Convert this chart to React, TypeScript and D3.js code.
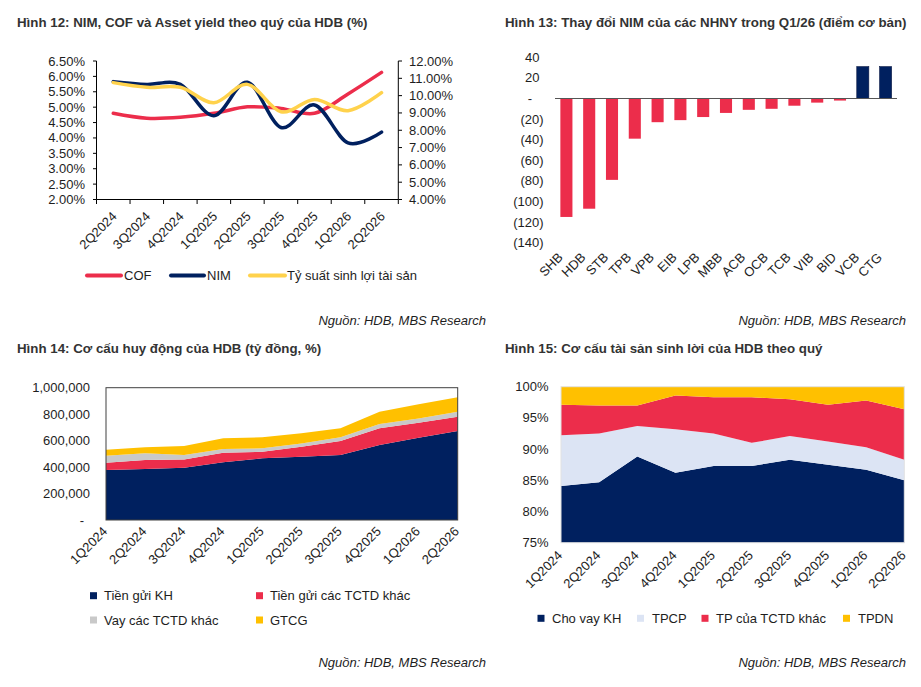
import * as d3 from "d3";

const FONT = "'Liberation Sans', Arial, sans-serif";
const NAVY = "#00205F";
const RED = "#EC2D4B";
const GOLD = "#FFC000";
const LINE_GOLD = "#FFD24C";
const GRAY = "#C9C9C9";
const PALE = "#DCE4F4";
const INK = "#1E1E1E";

// Hình 12
const Q_A = ["2Q2024", "3Q2024", "4Q2024", "1Q2025", "2Q2025", "3Q2025", "4Q2025", "1Q2026", "2Q2026"];
const COF = [4.8, 4.64, 4.67, 4.8, 5.01, 4.96, 4.8, 5.43, 6.13];
const NIM = [5.83, 5.74, 5.74, 4.72, 5.81, 4.34, 5.07, 3.84, 4.19];
const YIELD = [10.75, 10.48, 10.48, 9.59, 10.65, 9.07, 9.78, 9.13, 10.17];
const LEFT_TICKS = [2, 2.5, 3, 3.5, 4, 4.5, 5, 5.5, 6, 6.5];
const RIGHT_TICKS = [4, 5, 6, 7, 8, 9, 10, 11, 12];

// Hình 13
const BANKS = ["SHB", "HDB", "STB", "TPB", "VPB", "EIB", "LPB", "MBB", "ACB", "OCB", "TCB", "VIB", "BID", "VCB", "CTG"];
const NIM_CHG = [-115, -107, -79, -39, -23, -21, -18, -14, -11, -10, -7, -4, -2, 31, 31];
const BP_TICKS = [40, 20, 0, -20, -40, -60, -80, -100, -120, -140];

// Hình 14 (nghìn tỷ đồng)
const Q_B = ["1Q2024", "2Q2024", "3Q2024", "4Q2024", "1Q2025", "2Q2025", "3Q2025", "4Q2025", "1Q2026", "2Q2026"];
const DEP_KH = [378, 385, 395, 436, 466, 479, 491, 567, 622, 673];
const DEP_TCTD = [55, 68, 63, 73, 50, 75, 106, 126, 114, 108];
const VAY_TCTD = [53, 51, 33, 28, 26, 25, 28, 32, 32, 38];
const GTCG = [45, 45, 68, 80, 83, 76, 68, 94, 106, 108];
const FUND_TICKS = [0, 200000, 400000, 600000, 800000, 1000000];

// Hình 15 (%)
const LOAN = [84.1, 84.7, 88.8, 86.2, 87.3, 87.3, 88.3, 87.5, 86.7, 85.0];
const TPCP = [8.1, 7.8, 4.9, 7.0, 5.2, 3.7, 3.8, 3.7, 3.6, 3.3];
const TP_TCTD = [4.9, 4.5, 3.3, 5.4, 5.8, 7.3, 5.9, 5.9, 7.5, 8.1];
const TPDN = [2.9, 3.0, 3.0, 1.4, 1.7, 1.7, 2.0, 2.9, 2.2, 3.6];
const PCT_TICKS = [75, 80, 85, 90, 95, 100];

const SOURCE = "Nguồn: HDB, MBS Research";

function Title({ x, y, children }: { x: number; y: number; children: string }) {
  return (
    <text x={x} y={y} fontSize={13.3} fontWeight="bold" fill="#333">
      {children}
    </text>
  );
}

function Source({ x, y }: { x: number; y: number }) {
  return (
    <text x={x} y={y} fontSize={13} fontStyle="italic" textAnchor="end" fill={INK}>
      {SOURCE}
    </text>
  );
}

function Panel12() {
  const x = d3.scaleBand().domain(Q_A).range([96.5, 398.3]);
  const yL = d3.scaleLinear().domain([2, 6.5]).range([199.5, 61]);
  const yR = d3.scaleLinear().domain([4, 12]).range([199.5, 61]);
  const cx = (q: string) => (x(q) ?? 0) + x.bandwidth() / 2;
  const curve = d3.curveCardinal.tension(0);
  const lineL = d3.line<number>().x((_, i) => cx(Q_A[i])).y((d) => yL(d)).curve(curve);
  const lineR = d3.line<number>().x((_, i) => cx(Q_A[i])).y((d) => yR(d)).curve(curve);
  const fmt2 = (v: number) => v.toFixed(2) + "%";
  const series = [
    { name: "COF", color: RED, x0: 87, x1: 121, tx: 124 },
    { name: "NIM", color: NAVY, x0: 171, x1: 204, tx: 207 },
    { name: "Tỷ suất sinh lợi tài sản", color: LINE_GOLD, x0: 250, x1: 285, tx: 287 },
  ];
  return (
    <g>
      <Title x={17} y={27}>Hình 12: NIM, COF và Asset yield theo quý của HDB (%)</Title>
      <g stroke="#000" strokeWidth={1}>
        <line x1={96.5} x2={96.5} y1={61} y2={199.5} />
        <line x1={398.3} x2={398.3} y1={61} y2={199.5} />
        <line x1={96.5} x2={398.3} y1={199.5} y2={199.5} />
        {LEFT_TICKS.map((t) => (
          <line key={"l" + t} x1={93} x2={96.5} y1={yL(t)} y2={yL(t)} />
        ))}
        {RIGHT_TICKS.map((t) => (
          <line key={"r" + t} x1={398.3} x2={402} y1={yR(t)} y2={yR(t)} />
        ))}
        {Q_A.map((q) => (
          <line key={q} x1={x(q)} x2={x(q)} y1={199.5} y2={204} />
        ))}
        <line x1={398.3} x2={398.3} y1={199.5} y2={204} />
      </g>
      {LEFT_TICKS.map((t) => (
        <text key={"lt" + t} x={85} y={yL(t)} dy="0.35em" textAnchor="end" fontSize={13} fill={INK}>
          {fmt2(t)}
        </text>
      ))}
      {RIGHT_TICKS.map((t) => (
        <text key={"rt" + t} x={409} y={yR(t)} dy="0.35em" fontSize={13} fill={INK}>
          {fmt2(t)}
        </text>
      ))}
      {Q_A.map((q) => (
        <text key={"x" + q} transform={`translate(${cx(q) + 1},${214}) rotate(-45)`} dy="0.35em" textAnchor="end" fontSize={13} fill={INK}>
          {q}
        </text>
      ))}
      <g fill="none" strokeWidth={3.5} strokeLinecap="round">
        <path d={lineL(COF) ?? ""} stroke={RED} />
        <path d={lineL(NIM) ?? ""} stroke={NAVY} />
        <path d={lineR(YIELD) ?? ""} stroke={LINE_GOLD} />
      </g>
      {series.map((s) => (
        <g key={s.name}>
          <line x1={s.x0} x2={s.x1} y1={275.5} y2={275.5} stroke={s.color} strokeWidth={4} strokeLinecap="round" />
          <text x={s.tx} y={275.5} dy="0.35em" fontSize={13} fill={INK}>
            {s.name}
          </text>
        </g>
      ))}
      <Source x={486} y={325} />
    </g>
  );
}

function Panel13() {
  const x = d3.scaleBand().domain(BANKS).range([555, 897]).paddingInner(0.47).paddingOuter(0.235);
  const y = d3.scaleLinear().domain([-140, 40]).range([242.7, 57.3]);
  const label = (v: number) => (v === 0 ? "-" : v < 0 ? `(${-v})` : String(v));
  return (
    <g>
      <Title x={505} y={27}>Hình 13: Thay đổi NIM của các NHNY trong Q1/26 (điểm cơ bản)</Title>
      {BANKS.map((b, i) => {
        const v = NIM_CHG[i];
        return (
          <rect
            key={b}
            x={x(b)}
            width={x.bandwidth()}
            y={y(Math.max(0, v))}
            height={Math.abs(y(v) - y(0))}
            fill={v < 0 ? RED : NAVY}
            stroke={v < 0 ? "none" : "#0B1A45"}
            strokeWidth={0.6}
          />
        );
      })}
      <line x1={555} x2={897} y1={y(0)} y2={y(0)} stroke="#555" strokeWidth={1.2} />
      {BP_TICKS.map((t) => (
        <text
          key={t}
          x={t === 0 ? 532 : t > 0 ? 539.5 : 543.5}
          y={y(t)}
          dy="0.35em"
          textAnchor="end"
          fontSize={13}
          fill={INK}
        >
          {label(t)}
        </text>
      ))}
      {BANKS.map((b) => (
        <text
          key={"x" + b}
          transform={`translate(${(x(b) ?? 0) + x.bandwidth() / 2 - 6},${255}) rotate(-45)`}
          dy="0.35em"
          textAnchor="end"
          fontSize={13}
          fill={INK}
        >
          {b}
        </text>
      ))}
      <Source x={906} y={325} />
    </g>
  );
}

function Panel14() {
  const rows = Q_B.map((q, i) => ({
    q,
    kh: DEP_KH[i] * 1000,
    tctd: DEP_TCTD[i] * 1000,
    vay: VAY_TCTD[i] * 1000,
    gtcg: GTCG[i] * 1000,
  }));
  const keys = ["kh", "tctd", "vay", "gtcg"];
  const colors: Record<string, string> = { kh: NAVY, tctd: RED, vay: GRAY, gtcg: GOLD };
  const stacked = d3.stack<any>().keys(keys)(rows);
  const x = d3.scalePoint().domain(Q_B).range([106, 457.7]);
  const y = d3.scaleLinear().domain([0, 1000000]).range([520, 387.7]);
  const area = d3
    .area<any>()
    .x((d) => x(d.data.q) ?? 0)
    .y0((d) => y(d[0]))
    .y1((d) => y(d[1]));
  const legend = [
    { name: "Tiền gửi KH", color: NAVY, sx: 90, tx: 104, ly: 595.7 },
    { name: "Tiền gửi các TCTD khác", color: RED, sx: 256, tx: 270, ly: 595.7 },
    { name: "Vay các TCTD khác", color: GRAY, sx: 90, tx: 104, ly: 620 },
    { name: "GTCG", color: GOLD, sx: 256, tx: 270, ly: 620 },
  ];
  return (
    <g>
      <Title x={17} y={353}>Hình 14: Cơ cấu huy động của HDB (tỷ đồng, %)</Title>
      {stacked.map((s) => (
        <path key={s.key} d={area(s) ?? ""} fill={colors[s.key]} />
      ))}
      <rect x={106} y={387.7} width={351.7} height={132.3} fill="none" stroke="#404040" strokeWidth={1} />
      {FUND_TICKS.map((t) => (
        <text key={t} x={t === 0 ? 84 : 90} y={y(t)} dy="0.35em" textAnchor="end" fontSize={13} fill={INK}>
          {t === 0 ? "-" : d3.format(",")(t)}
        </text>
      ))}
      {Q_B.map((q) => (
        <text key={q} transform={`translate(${(x(q) ?? 0) - 1},${529}) rotate(-45)`} dy="0.35em" textAnchor="end" fontSize={13} fill={INK}>
          {q}
        </text>
      ))}
      {legend.map((l) => (
        <g key={l.name}>
          <rect x={l.sx} y={l.ly - 3.5} width={7} height={7} fill={l.color} />
          <text x={l.tx} y={l.ly} dy="0.35em" fontSize={13} fill={INK}>
            {l.name}
          </text>
        </g>
      ))}
      <Source x={486} y={667} />
    </g>
  );
}

function Panel15() {
  const rows = Q_B.map((q, i) => ({ q, loan: LOAN[i], tpcp: TPCP[i], tctd: TP_TCTD[i], tpdn: TPDN[i] }));
  const keys = ["loan", "tpcp", "tctd", "tpdn"];
  const colors: Record<string, string> = { loan: NAVY, tpcp: PALE, tctd: RED, tpdn: GOLD };
  const stacked = d3.stack<any>().keys(keys)(rows);
  const x = d3.scalePoint().domain(Q_B).range([561, 904.3]);
  const y = d3.scaleLinear().domain([75, 100]).range([542.7, 386.7]);
  const area = d3
    .area<any>()
    .x((d) => x(d.data.q) ?? 0)
    .y0((d) => y(Math.max(75, d[0])))
    .y1((d) => y(Math.min(100, d[1])));
  const legend = [
    { name: "Cho vay KH", color: NAVY, sx: 537.5, tx: 552 },
    { name: "TPCP", color: PALE, sx: 637, tx: 652 },
    { name: "TP của TCTD khác", color: RED, sx: 701.5, tx: 716 },
    { name: "TPDN", color: GOLD, sx: 843, tx: 858 },
  ];
  return (
    <g>
      <Title x={505} y={353}>Hình 15: Cơ cấu tài sản sinh lời của HDB theo quý</Title>
      {stacked.map((s) => (
        <path key={s.key} d={area(s) ?? ""} fill={colors[s.key]} />
      ))}
      <rect x={561} y={386.7} width={343.3} height={156} fill="none" stroke="#E2E2E2" strokeWidth={1} />
      {PCT_TICKS.map((t) => (
        <text key={t} x={548.5} y={y(t)} dy="0.35em" textAnchor="end" fontSize={13} fill={INK}>
          {t}%
        </text>
      ))}
      {Q_B.map((q) => (
        <text key={q} transform={`translate(${(x(q) ?? 0) - 1},${553}) rotate(-45)`} dy="0.35em" textAnchor="end" fontSize={13} fill={INK}>
          {q}
        </text>
      ))}
      {legend.map((l) => (
        <g key={l.name}>
          <rect x={l.sx} y={614.8} width={7} height={7} fill={l.color} />
          <text x={l.tx} y={618.3} dy="0.35em" fontSize={13} fill={INK}>
            {l.name}
          </text>
        </g>
      ))}
      <Source x={906} y={667} />
    </g>
  );
}

export default function App() {
  return (
    <svg
      width={921}
      height={687}
      viewBox="0 0 921 687"
      style={{ position: "absolute", left: 0, top: 0, background: "#fff" }}
      fontFamily={FONT}
    >
      <rect width={921} height={687} fill="#fff" />
      <Panel12 />
      <Panel13 />
      <Panel14 />
      <Panel15 />
    </svg>
  );
}
